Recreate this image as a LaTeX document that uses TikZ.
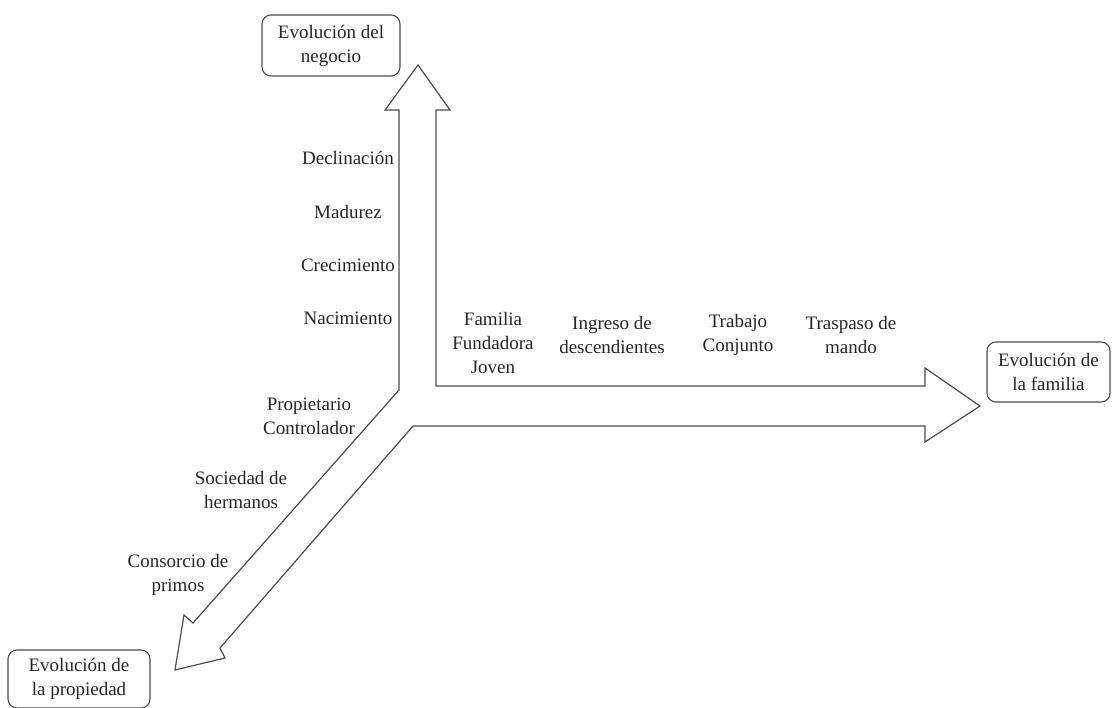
\documentclass[tikz,border=0pt]{standalone}
\usepackage{fontspec}
\setmainfont{Liberation Serif}
\begin{document}
\begin{tikzpicture}[x=1pt,y=-1pt,
  lbl/.style={align=center,font=\fontsize{19}{24}\selectfont,text=black!85,inner sep=0pt},
  box/.style={lbl,draw=black!70,line width=1.1pt,rounded corners=9pt},
  bigarrow/.style={draw=black!70,line width=1.2pt,line join=miter}]
\useasboundingbox (0,0) rectangle (1113,707);
\fill[white] (0,0) rectangle (1113,707);

% the three-way arrow
\draw[bigarrow]
  (399,390) -- (399,110) -- (385,110) -- (418,65) -- (450,110) -- (436,110)
  -- (436,386) -- (925,386) -- (925,368) -- (980,406) -- (925,442) -- (925,426)
  -- (413,426) -- (220,648) -- (225,658) -- (175,670) -- (184,615) -- (193,623)
  -- cycle;

% end boxes
\node[box,minimum width=138pt,minimum height=61pt] (negocio) at (331,45.5) {Evolución del\\negocio};
\node[box,minimum width=123pt,minimum height=60pt] (familia) at (1048.5,372) {Evolución de\\la familia};
\node[box,minimum width=142pt,minimum height=58pt] (propiedad) at (79,679) {Evolución de\\la propiedad};

% business stages
\node[lbl] (decl) at (348,158) {Declinación};
\node[lbl] (madu) at (348,212) {Madurez};
\node[lbl] (crec) at (348,265) {Crecimiento};
\node[lbl] (naci) at (348,318) {Nacimiento};

% family stages
\node[lbl] (fund) at (493,343) {Familia\\Fundadora\\Joven};
\node[lbl] (ingr) at (612,335) {Ingreso de\\descendientes};
\node[lbl] (trab) at (738,335) {Trabajo\\Conjunto};
\node[lbl] (tras) at (851,335) {Traspaso de\\mando};

% ownership stages
\node[lbl] (prop) at (309,416) {Propietario\\Controlador};
\node[lbl] (soci) at (241,490) {Sociedad de\\hermanos};
\node[lbl] (cons) at (178,575) {Consorcio de\\primos};
\end{tikzpicture}
\end{document}
